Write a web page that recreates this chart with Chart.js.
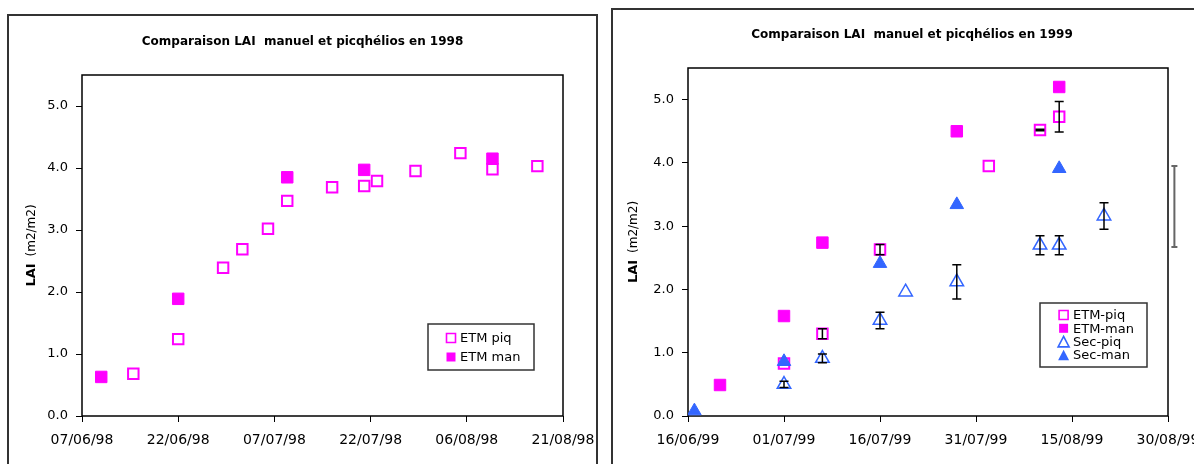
<!DOCTYPE html>
<html><head><meta charset="utf-8">
<script src="https://cdn.jsdelivr.net/npm/chart.js@4.4.1/dist/chart.umd.min.js"></script>
<style>
html,body{margin:0;padding:0;background:#fff;width:1194px;height:464px;overflow:hidden;}
.frame{position:absolute;box-sizing:border-box;border:2px solid #333;}
.holder{position:absolute;}
</style></head><body>
<div class="frame" style="left:7px;top:14px;width:591px;height:480px"></div>
<div class="holder" style="left:8px;top:15px;width:589px;height:460px"><canvas id="c98"></canvas></div>
<div class="frame" style="left:611px;top:8px;width:610px;height:480px"></div>
<div class="holder" style="left:612px;top:9px;width:600px;height:460px"><canvas id="c99"></canvas></div>
<script>
// ---------- data ----------
const title98 = 'Comparaison LAI  manuel et picqhélios en 1998';
const title99 = 'Comparaison LAI  manuel et picqhélios en 1999';
const yTicks = [0, 1, 2, 3, 4, 5];

const x98Ticks = ['1998-06-07','1998-06-22','1998-07-07','1998-07-22','1998-08-06','1998-08-21'];
const etmPiq98Dates  = ['1998-06-15','1998-06-22','1998-06-29','1998-07-02','1998-07-06','1998-07-09','1998-07-16','1998-07-21','1998-07-23','1998-07-29','1998-08-05','1998-08-10','1998-08-17'];
const etmPiq98Values = [0.68, 1.24, 2.39, 2.69, 3.02, 3.47, 3.69, 3.71, 3.79, 3.95, 4.24, 3.98, 4.03];
const etmMan98Dates  = ['1998-06-10','1998-06-22','1998-07-09','1998-07-21','1998-08-10'];
const etmMan98Values = [0.63, 1.89, 3.85, 3.97, 4.15];

const x99Ticks = ['1999-06-16','1999-07-01','1999-07-16','1999-07-31','1999-08-15','1999-08-30'];
const etmPiq99Dates  = ['1999-07-01','1999-07-07','1999-07-16','1999-08-02','1999-08-10','1999-08-13'];
const etmPiq99Values = [0.83, 1.30, 2.63, 3.95, 4.52, 4.73];
const etmPiq99Err    = [0, 0.08, 0.08, 0, 0.01, 0.24];
const etmMan99Dates  = ['1999-06-21','1999-07-01','1999-07-07','1999-07-28','1999-08-13'];
const etmMan99Values = [0.49, 1.58, 2.74, 4.50, 5.20];
const secPiq99Dates  = ['1999-07-01','1999-07-07','1999-07-16','1999-07-20','1999-07-28','1999-08-10','1999-08-13','1999-08-20','1999-08-31'];
const secPiq99Values = [0.50, 0.91, 1.51, 1.96, 2.12, 2.70, 2.70, 3.16, 3.31];
const secPiq99Err    = [0.05, 0.07, 0.13, 0, 0.27, 0.15, 0.15, 0.21, 0.64];
const secMan99Dates  = ['1999-06-17','1999-07-01','1999-07-16','1999-07-28','1999-08-13'];
const secMan99Values = [0.08, 0.86, 2.41, 3.34, 3.91];

// ---------- helpers ----------
function dayNum(s){ const [y,m,d] = s.split('-').map(Number); return Date.UTC(y, m-1, d) / 86400000; }
function fmtDate(v){ const d = new Date(Math.round(v) * 86400000);
  const p = n => String(n).padStart(2,'0');
  return p(d.getUTCDate()) + '/' + p(d.getUTCMonth()+1) + '/' + p(d.getUTCFullYear() % 100); }
function pts(dates, vals){ return dates.map((d,i) => ({x: dayNum(d), y: vals[i]})); }

const MAG = '#FF00FF', BLUE = '#3366FF';
const FONT = '"DejaVu Sans", sans-serif';

function drawMarker(ctx, style, filled, color, x, y, size, lw){
  ctx.save();
  ctx.beginPath();
  if (style === 'rect') {
    ctx.rect(x - size/2, y - size/2, size, size);
  } else {
    const h = size * 0.95;
    ctx.moveTo(x, y - h/2); ctx.lineTo(x + size/2, y + h/2); ctx.lineTo(x - size/2, y + h/2); ctx.closePath();
  }
  if (filled) { ctx.fillStyle = color; ctx.fill(); }
  else { ctx.strokeStyle = color; ctx.lineWidth = lw; ctx.stroke(); }
  ctx.restore();
}

// ---------- plugins ----------
const plotFrame = {
  id: 'plotFrame',
  beforeDatasetsDraw(chart){
    const {ctx, chartArea: a} = chart;
    ctx.save(); ctx.strokeStyle = '#000'; ctx.lineWidth = 1.5;
    ctx.strokeRect(a.left, a.top, a.right - a.left, a.bottom - a.top);
    ctx.restore();
  }
};
const errorBars = {
  id: 'errorBars',
  afterDatasetsDraw(chart){
    const {ctx} = chart; const xs = chart.scales.x, ys = chart.scales.y;
    chart.data.datasets.forEach(ds => {
      if (!ds.errors) return;
      ds.data.forEach((p, j) => {
        const e = ds.errors[j]; if (!e) return;
        const out = p.x > xs.max || p.x < xs.min;
        const px = xs.getPixelForValue(p.x);
        const y1 = ys.getPixelForValue(p.y + e), y2 = ys.getPixelForValue(p.y - e);
        const cap = out ? 3 : 4.5;
        ctx.save();
        ctx.strokeStyle = out ? '#666' : '#000';
        ctx.lineWidth = out ? 2 : 1.5;
        ctx.beginPath();
        ctx.moveTo(px, y1); ctx.lineTo(px, y2);
        ctx.moveTo(px - cap, y1); ctx.lineTo(px + cap, y1);
        ctx.moveTo(px - cap, y2); ctx.lineTo(px + cap, y2);
        ctx.stroke();
        ctx.restore();
      });
    });
  }
};
const boxLegend = {
  id: 'boxLegend',
  afterDraw(chart, args, o){
    const ctx = chart.ctx;
    ctx.save();
    ctx.fillStyle = '#fff'; ctx.fillRect(o.x, o.y, o.w, o.h);
    ctx.strokeStyle = '#333'; ctx.lineWidth = 1.5; ctx.strokeRect(o.x, o.y, o.w, o.h);
    chart.data.datasets.forEach((ds, i) => {
      const cy = o.firstY + i * o.rowH;
      drawMarker(ctx, ds.pointStyle, ds.legendFilled, ds.legendColor, o.markerX, cy, ds.pointStyle === 'rect' ? 9 : 11, 1.6);
      ctx.fillStyle = '#000'; ctx.font = '13px ' + FONT; ctx.textBaseline = 'middle'; ctx.textAlign = 'left';
      ctx.fillText(ds.label, o.textX, cy + 1);
    });
    ctx.restore();
  }
};
const yTitle = {
  id: 'yTitle',
  afterDraw(chart, args, o){
    const {ctx, chartArea: a} = chart;
    const cy = (a.top + a.bottom) / 2;
    ctx.save();
    ctx.translate(o.x, cy); ctx.rotate(-Math.PI/2);
    ctx.textBaseline = 'middle'; ctx.textAlign = 'left'; ctx.fillStyle = '#000';
    ctx.font = 'bold 13px ' + FONT; const w1 = ctx.measureText(o.bold).width;
    ctx.font = '12px ' + FONT; const w2 = ctx.measureText(o.normal).width;
    const start = -(w1 + o.gap + w2) / 2;
    ctx.font = 'bold 13px ' + FONT; ctx.fillText(o.bold, start, 0);
    ctx.font = '12px ' + FONT; ctx.fillText(o.normal, start + w1 + o.gap, 0);
    ctx.restore();
  }
};

function makeOptions(cfg){
  const xMin = dayNum(cfg.xTicks[0]), xMax = dayNum(cfg.xTicks[cfg.xTicks.length-1]);
  return {
    responsive: true, maintainAspectRatio: false, animation: false, events: [],
    layout: {padding: 0},
    plugins: {
      legend: {display: false}, tooltip: {enabled: false},
      title: {display: true, text: cfg.title, color: '#000',
        font: {family: FONT, size: 12, weight: 'bold', lineHeight: 1.2},
        padding: {top: cfg.titleTop, bottom: cfg.titleBottom}},
      boxLegend: cfg.legend,
      yTitle: {x: cfg.yTitleX, bold: 'LAI', normal: '(m2/m2)', gap: 7}
    },
    scales: {
      x: {type: 'linear', min: xMin, max: xMax,
        afterBuildTicks: s => { s.ticks = cfg.xTicks.map(d => ({value: dayNum(d)})); },
        afterFit: s => { s.height = cfg.xHeight; s.paddingLeft = 0; s.paddingRight = cfg.padRight; },
        ticks: {callback: v => fmtDate(v), autoSkip: false, maxRotation: 0, color: '#000',
          font: {family: FONT, size: 14}, padding: 10},
        grid: {drawOnChartArea: false, drawTicks: true, tickLength: 6, color: '#000', lineWidth: 1},
        border: {display: false}},
      y: {min: 0, max: 5.5,
        afterBuildTicks: s => { s.ticks = yTicks.map(v => ({value: v})); },
        afterFit: s => { s.width = cfg.yWidth; s.paddingTop = 0; s.paddingBottom = 0; },
        ticks: {callback: v => Number(v).toFixed(1), color: '#000', font: {family: FONT, size: 13}, padding: 8},
        grid: {drawOnChartArea: false, drawTicks: true, tickLength: 6, color: '#000', lineWidth: 1},
        border: {display: false}}
    }
  };
}

const openSq  = {pointStyle: 'rect', pointRadius: 7.4, borderColor: MAG, backgroundColor: 'rgba(0,0,0,0)', borderWidth: 2, legendFilled: false, legendColor: MAG};
const fillSq  = {pointStyle: 'rect', pointRadius: 8.1, borderColor: MAG, backgroundColor: MAG, borderWidth: 1, legendFilled: true, legendColor: MAG};

// ---------- 1998 ----------
new Chart(document.getElementById('c98'), {
  type: 'scatter',
  data: {datasets: [
    Object.assign({label: 'ETM piq', data: pts(etmPiq98Dates, etmPiq98Values), order: 2}, openSq),
    Object.assign({label: 'ETM man', data: pts(etmMan98Dates, etmMan98Values), order: 1}, fillSq)
  ]},
  options: makeOptions({
    xTicks: x98Ticks, title: title98, padRight: 34, titleTop: 20, titleBottom: 25.6,
    xHeight: 59, yWidth: 74, yTitleX: 24,
    legend: {x: 420, y: 309, w: 106, h: 46, firstY: 323, rowH: 19, markerX: 443, textX: 452}
  }),
  plugins: [plotFrame, errorBars, boxLegend, yTitle]
});

// ---------- 1999 ----------
const x99Max = dayNum(x99Ticks[x99Ticks.length-1]);
const hideOutside = r => ctx => (ctx.raw && ctx.raw.x > x99Max) ? 0 : r;
new Chart(document.getElementById('c99'), {
  type: 'scatter',
  data: {datasets: [
    Object.assign({label: 'ETM-piq', data: pts(etmPiq99Dates, etmPiq99Values), errors: etmPiq99Err, order: 4}, openSq),
    Object.assign({label: 'ETM-man', data: pts(etmMan99Dates, etmMan99Values), order: 3}, fillSq),
    {label: 'Sec-piq', data: pts(secPiq99Dates, secPiq99Values), errors: secPiq99Err, order: 2,
      pointStyle: 'triangle', pointRadius: hideOutside(7.8), borderColor: BLUE, backgroundColor: 'rgba(0,0,0,0)', borderWidth: 1.5,
      legendFilled: false, legendColor: BLUE},
    {label: 'Sec-man', data: pts(secMan99Dates, secMan99Values), order: 1,
      pointStyle: 'triangle', pointRadius: 7.8, borderColor: BLUE, backgroundColor: BLUE, borderWidth: 1,
      legendFilled: true, legendColor: BLUE}
  ]},
  options: makeOptions({
    xTicks: x99Ticks, title: title99, padRight: 44, titleTop: 18.8, titleBottom: 25.8,
    xHeight: 53, yWidth: 76, yTitleX: 22,
    legend: {x: 428, y: 294, w: 107, h: 64, firstY: 306, rowH: 13.3, markerX: 451.6, textX: 461}
  }),
  plugins: [plotFrame, errorBars, boxLegend, yTitle]
});
</script>
</body></html>
